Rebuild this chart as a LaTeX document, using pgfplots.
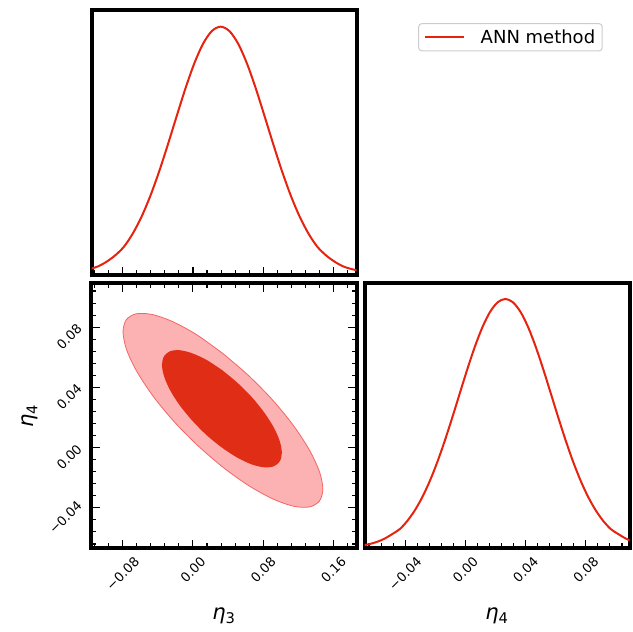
\documentclass[border=0pt]{standalone}
\usepackage{fontspec}
\setmainfont{DejaVu Sans}
\usepackage{pgfplots}
\pgfplotsset{compat=1.18}
\definecolor{curvered}{RGB}{230,35,15}
\definecolor{innerred}{RGB}{224,46,22}
\definecolor{outerpink}{RGB}{252,178,178}
\definecolor{outeredge}{RGB}{245,100,100}
\definecolor{legframe}{RGB}{204,204,204}
\newcommand{\tl}[1]{\rotatebox{45}{#1}}
\pgfplotsset{
  corner/.style={
    scale only axis, width=265pt, height=265pt,
    anchor=south west,
    axis line style={line width=4pt, black},
    tick style={black, line width=1.1pt},
    major tick length=8.5pt, minor tick length=5pt,
    tick align=inside,
    tick label style={font=\fontsize{13}{13}\selectfont},
    label style={font=\fontsize{21}{21}\selectfont},
    xticklabel style={anchor=north, yshift=-4pt},
    yticklabel style={anchor=east, xshift=-5pt, yshift=-9.5pt},
  },
  etathree/.style={
    xmin=-0.1155, xmax=0.1862,
    xtick={-0.08,0,0.08,0.16},
    minor xtick={-0.112,-0.096,-0.064,-0.048,-0.032,-0.016,0.016,0.032,0.048,0.064,0.096,0.112,0.128,0.144,0.176},
  },
}
\begin{document}
\begin{tikzpicture}
\useasboundingbox (0pt,0pt) rectangle (633pt,632pt);
% ---------------- top panel: eta_3 ----------------
\begin{axis}[corner, etathree, at={(91.5pt,356.5pt)},
  ymin=0, ymax=1.065,
  xticklabels={}, xtick pos=left, ytick=\empty,
  legend style={at={(1.581,0.899)}, anchor=center, draw=legframe, line width=1pt,
    rounded corners=3pt, font=\fontsize{18}{18}\selectfont,
    inner xsep=5pt, inner ysep=4pt, column sep=14pt},
  legend cell align=left,
  legend image code/.code={\draw[#1, rounded corners=0pt] (0pt,0pt) -- (39pt,0pt);},
]
\addplot[curvered, line width=2pt, smooth] coordinates {
(-0.1185,0.025) (-0.1085,0.036) (-0.0985,0.055) (-0.0885,0.081) (-0.0785,0.116)
(-0.0685,0.1686) (-0.0585,0.2365) (-0.0485,0.3201) (-0.0385,0.4180) (-0.0285,0.5269)
(-0.0185,0.6408) (-0.0085,0.7522) (0.0015,0.8520) (0.0115,0.9313) (0.0215,0.9824)
(0.0315,1.0000) (0.0415,0.9824) (0.0515,0.9313) (0.0615,0.8520) (0.0715,0.7522)
(0.0815,0.6408) (0.0915,0.5269) (0.1015,0.4180) (0.1115,0.3201) (0.1215,0.2365)
(0.1315,0.1686) (0.1415,0.116) (0.1515,0.081) (0.1615,0.055) (0.1715,0.036)
(0.1815,0.025) (0.1915,0.018)
};
\addlegendentry{ANN method}
\end{axis}
% ---------------- bottom-left: 2D ----------------
\begin{axis}[corner, etathree, at={(91.5pt,83.5pt)},
  ymin=-0.067, ymax=0.109,
  ytick={-0.04,0,0.04,0.08},
  minor ytick={-0.064,-0.056,-0.048,-0.032,-0.024,-0.016,-0.008,0.008,0.016,0.024,0.032,0.048,0.056,0.064,0.072,0.088,0.096,0.104},
  xticklabels={\tl{−0.08},\tl{0.00},\tl{0.08},\tl{0.16}},
  yticklabels={\tl{−0.04},\tl{0.00},\tl{0.04},\tl{0.08}},
  xlabel={\textit{η}\textsubscript{3}},
  ylabel={\textit{η}\textsubscript{4}},
  xlabel style={at={(axis description cs:0.5,-0.255)}, anchor=center},
  ylabel style={at={(axis description cs:-0.232,0.5)}, anchor=center},
  axis on top,
]
\addplot[fill=outerpink, draw=outeredge, line width=0.8pt, smooth] coordinates {
(0.0341,0.0625) (0.0636,0.0477) (0.0910,0.0314) (0.1145,0.0146) (0.1326,-0.0016)
(0.1440,-0.0159) (0.1479,-0.0275) (0.1440,-0.0355) (0.1326,-0.0394) (0.1145,-0.0389)
(0.0910,-0.0341) (0.0636,-0.0253) (0.0341,-0.0130) (0.0047,0.0018) (-0.0228,0.0181)
(-0.0463,0.0349) (-0.0644,0.0511) (-0.0758,0.0654) (-0.0796,0.0770) (-0.0758,0.0850)
(-0.0644,0.0889) (-0.0463,0.0884) (-0.0228,0.0836) (0.0047,0.0748) (0.0341,0.0625)
} -- cycle;
\addplot[fill=innerred, draw=none, smooth] coordinates {
(0.0330,0.0516) (0.0506,0.0431) (0.0671,0.0335) (0.0812,0.0233) (0.0921,0.0133)
(0.0989,0.0042) (0.1012,-0.0035) (0.0989,-0.0091) (0.0921,-0.0124) (0.0812,-0.0131)
(0.0671,-0.0112) (0.0506,-0.0067) (0.0330,0.0000) (0.0153,0.0084) (-0.0011,0.0181)
(-0.0152,0.0282) (-0.0261,0.0382) (-0.0329,0.0474) (-0.0353,0.0550) (-0.0329,0.0607)
(-0.0261,0.0640) (-0.0152,0.0647) (-0.0011,0.0627) (0.0153,0.0583) (0.0330,0.0516)
} -- cycle;
\end{axis}
% ---------------- bottom-right: eta_4 ----------------
\begin{axis}[corner, at={(364.5pt,83.5pt)},
  xmin=-0.067, xmax=0.109, ymin=0, ymax=1.062,
  xtick={-0.04,0,0.04,0.08},
  minor xtick={-0.064,-0.056,-0.048,-0.032,-0.024,-0.016,-0.008,0.008,0.016,0.024,0.032,0.048,0.056,0.064,0.072,0.088,0.096,0.104},
  xticklabels={\tl{−0.04},\tl{0.00},\tl{0.04},\tl{0.08}},
  xtick pos=left, ytick=\empty,
  xlabel={\textit{η}\textsubscript{4}},
  xlabel style={at={(axis description cs:0.5,-0.255)}, anchor=center},
]
\addplot[curvered, line width=2pt, smooth] coordinates {
(-0.0685,0.012) (-0.0635,0.018) (-0.0585,0.027) (-0.0535,0.040) (-0.0485,0.058)
(-0.0435,0.0781) (-0.0385,0.1110) (-0.0335,0.1537) (-0.0285,0.2072) (-0.0235,0.2723)
(-0.0185,0.3487) (-0.0135,0.4350) (-0.0085,0.5287) (-0.0035,0.6261) (0.0015,0.7224)
(0.0065,0.8121) (0.0115,0.8895) (0.0165,0.9493) (0.0215,0.9871) (0.0265,1.0000)
(0.0315,0.9871) (0.0365,0.9493) (0.0415,0.8895) (0.0465,0.8121) (0.0515,0.7224)
(0.0565,0.6261) (0.0615,0.5287) (0.0665,0.4350) (0.0715,0.3487) (0.0765,0.2723)
(0.0815,0.2072) (0.0865,0.1537) (0.0915,0.1110) (0.0965,0.0781) (0.1015,0.058)
(0.1065,0.040) (0.1115,0.027)
};
\end{axis}
\end{tikzpicture}
\end{document}
